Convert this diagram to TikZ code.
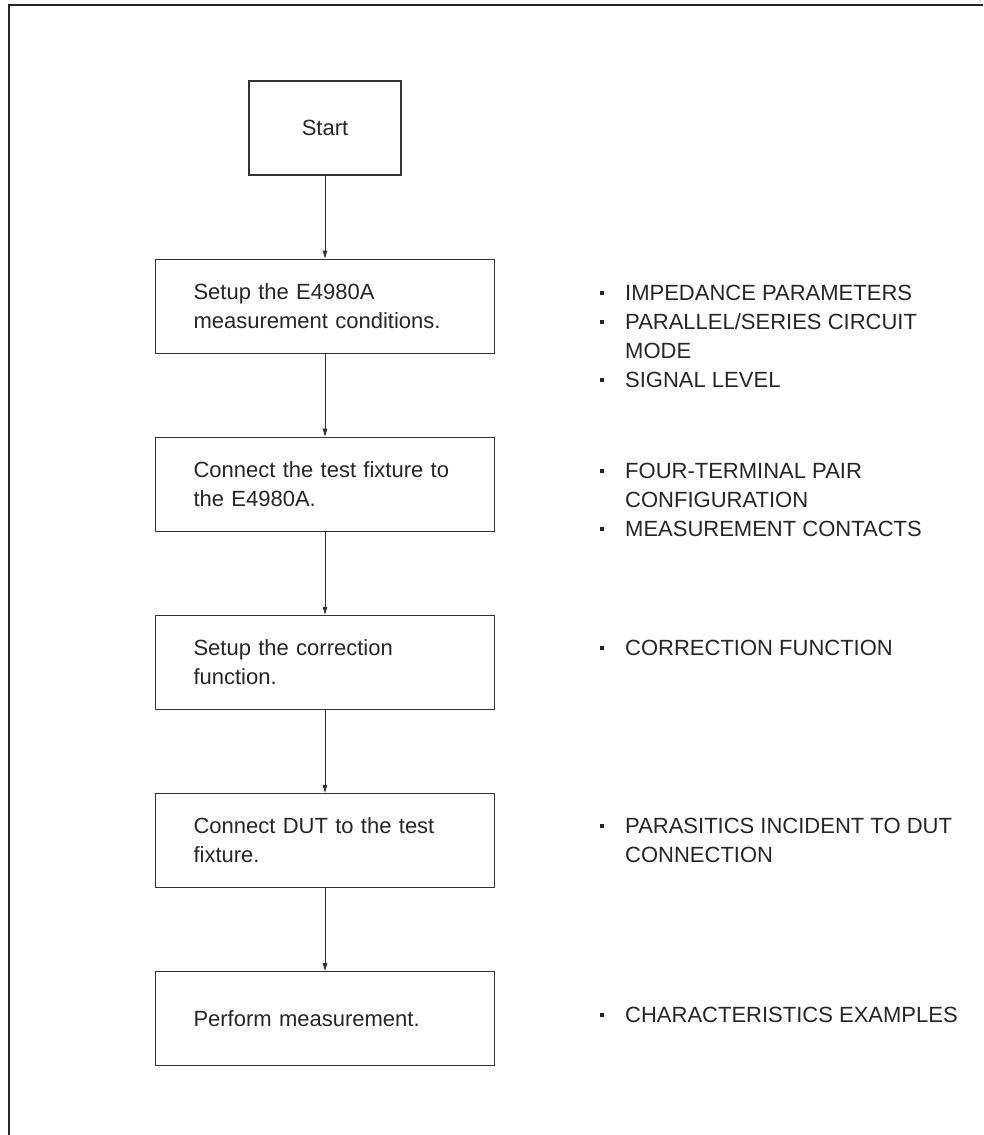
\documentclass[tikz,border=0pt]{standalone}
\usepackage{fontspec}
\setmainfont{Liberation Sans}
\usetikzlibrary{positioning, arrows.meta}
\newcommand{\bul}{\rule[5.5pt]{3.6pt}{3.6pt}}

\begin{document}
\begin{tikzpicture}[x=1pt, y=1pt, node distance=83pt,
      stp/.style={draw=black!80, line width=1.1pt, rectangle, inner xsep=38pt, inner ysep=0pt,
        text width=263pt, minimum height=94pt, align=left, text=black!85,
        font=\fontsize{22}{29}\selectfont},
      st/.style={draw=black!80, line width=1.1pt, rectangle, minimum width=152pt, minimum height=94pt,
        text=black!85, font=\fontsize{22}{29}\selectfont},
      note/.style={anchor=base west, inner sep=0pt, text=black!85, font=\fontsize{22}{29}\selectfont},
      arr/.style={-{Triangle[length=8pt,width=4.5pt]}, line width=0.9pt, black!80},
      frm/.style={line width=2.2pt, black!85}]
      \useasboundingbox (0,0) rectangle (983,-1135);
      \draw[frm] (9,-1135) -- (9,-5) -- (983,-5);
      % flow boxes
      \node[st] (start) at (325,-128) {Start};
      \node[stp, below=of start] (setup) {Setup the E4980A\\measurement conditions.};
      \node[stp, below=of setup] (fixt) {Connect the test fixture to\\the E4980A.};
      \node[stp, below=of fixt] (corr) {Setup the correction\\function.};
      \node[stp, below=of corr] (dut) {Connect DUT to the test\\fixture.};
      \node[stp, below=of dut] (meas) {Perform measurement.};
      \draw[arr] (start) -- (setup); \draw[arr] (setup) -- (fixt); \draw[arr] (fixt) -- (corr);
      \draw[arr] (corr) -- (dut); \draw[arr] (dut) -- (meas);
      % notes on the right
      \node[note] (nsetup) at (600,-300) {\begin{tabular}[t]{@{}p{25pt}@{}l@{}}
        \bul & IMPEDANCE PARAMETERS\\ \bul & PARALLEL/SERIES CIRCUIT\\ & MODE\\ \bul & SIGNAL LEVEL
        \end{tabular}};
      \node[note] (nfixt) at (600,-478) {\begin{tabular}[t]{@{}p{25pt}@{}l@{}}
        \bul & FOUR-TERMINAL PAIR\\ & CONFIGURATION\\ \bul & MEASUREMENT CONTACTS
        \end{tabular}};
      \node[note] (ncorr) at (600,-655) {\begin{tabular}[t]{@{}p{25pt}@{}l@{}}
        \bul & CORRECTION FUNCTION
        \end{tabular}};
      \node[note] (ndut) at (600,-833) {\begin{tabular}[t]{@{}p{25pt}@{}l@{}}
        \bul & PARASITICS INCIDENT TO DUT\\ & CONNECTION
        \end{tabular}};
      \node[note] (nmeas) at (600,-1022) {\begin{tabular}[t]{@{}p{25pt}@{}l@{}}
        \bul & CHARACTERISTICS EXAMPLES
        \end{tabular}};
    \end{tikzpicture}
\end{document}
